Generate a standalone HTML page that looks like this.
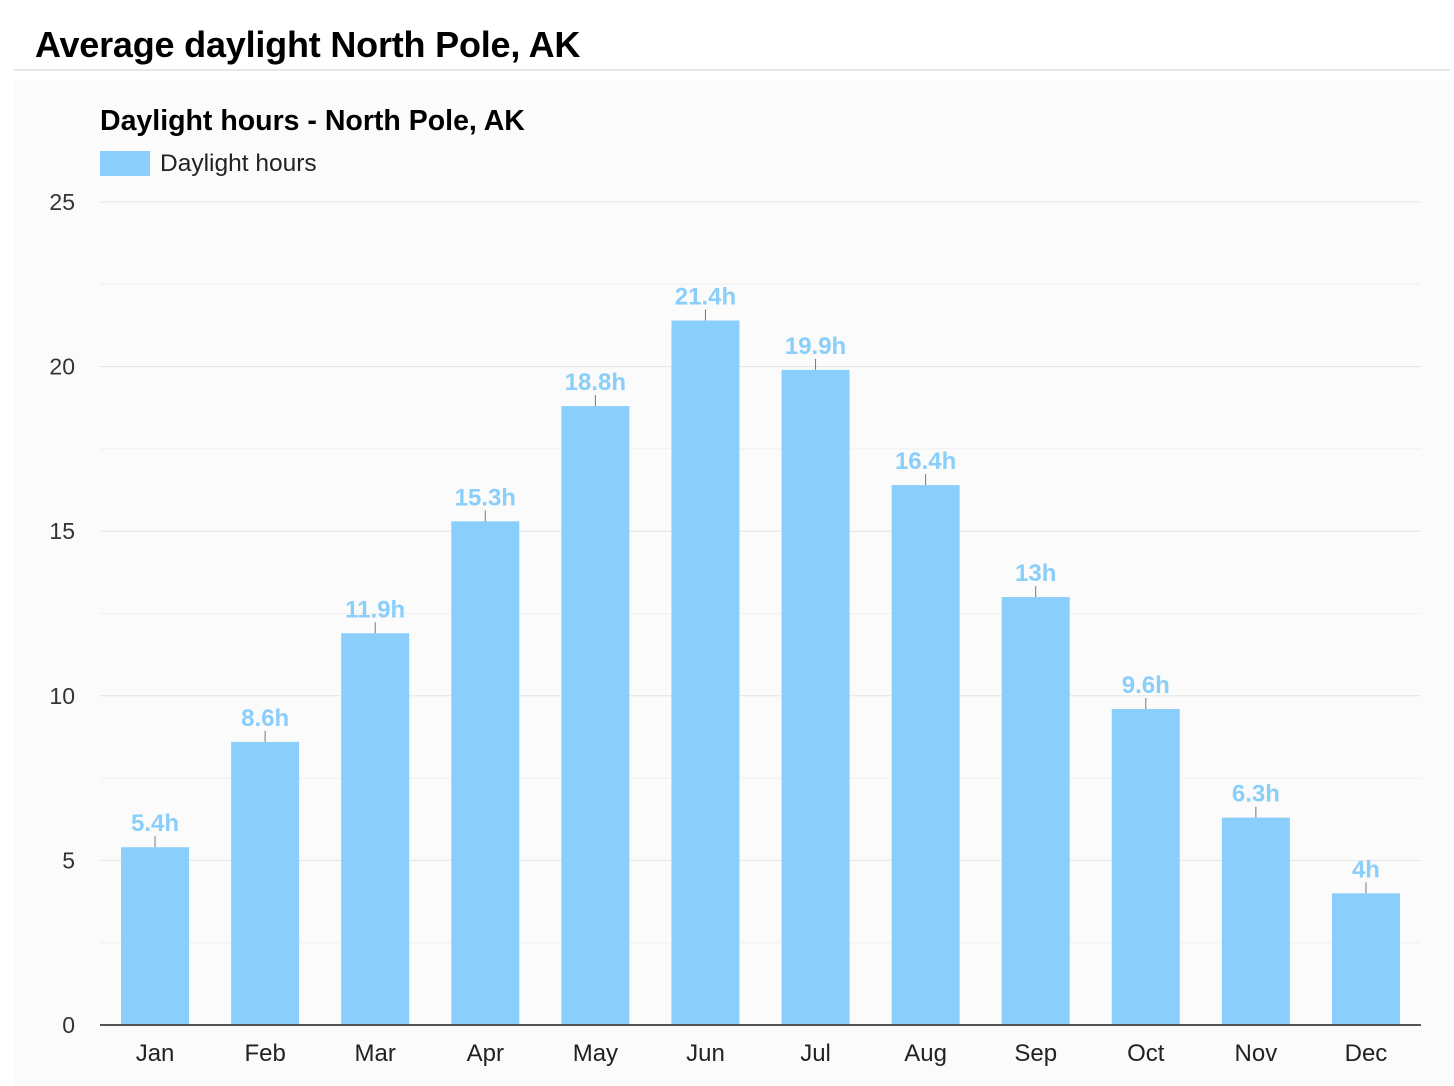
<!DOCTYPE html>
<html><head><meta charset="utf-8"><style>
body{margin:0;width:1454px;height:1086px;background:#fff;font-family:"Liberation Sans",Arial,sans-serif;overflow:hidden;position:relative}
#title{position:absolute;left:35px;top:24px;font-size:36px;font-weight:bold;color:#000;margin:0;letter-spacing:-0.2px}
#rule{position:absolute;left:14px;top:69px;width:1436px;height:2px;background:#e6e6e6}
#panel{position:absolute;left:14px;top:80px;width:1436px;height:1006px;background:#fafbfa}
svg{position:absolute;left:0;top:0}
</style></head><body>
<h1 id="title">Average daylight North Pole, AK</h1>
<div id="rule"></div>
<div id="panel"></div>
<svg id="chart" width="1454" height="1086">
<text x="100" y="130" font-size="28.5" font-weight="bold" fill="#000">Daylight hours - North Pole, AK</text>
<g>
<rect x="100" y="151" width="50" height="25" fill="#8acefb"></rect>
<text x="160" y="171" font-size="24.5" fill="#222">Daylight hours</text>
</g>
</svg>
<script>
const categories=["Jan","Feb","Mar","Apr","May","Jun","Jul","Aug","Sep","Oct","Nov","Dec"];
const values=[5.4,8.6,11.9,15.3,18.8,21.4,19.9,16.4,13,9.6,6.3,4];
const valueLabels=["5.4h","8.6h","11.9h","15.3h","18.8h","21.4h","19.9h","16.4h","13h","9.6h","6.3h","4h"];
const yTicks=[0,5,10,15,20,25];
const yMinor=[2.5,7.5,12.5,17.5,22.5];
const NS="http://www.w3.org/2000/svg";
const svg=document.getElementById('chart');
const x0=100,x1=1421,y0=1025,yTop=202,ymax=25;
const y=v=>y0-(v/ymax)*(y0-yTop);
const step=(x1-x0)/categories.length;
const xc=i=>x0+step*(i+0.5);
function mk(t,a){const e=document.createElementNS(NS,t);for(const k in a)e.setAttribute(k,a[k]);svg.appendChild(e);return e;}
yMinor.forEach(v=>{const l=mk('line',{x1:x0,x2:x1,y1:y(v),y2:y(v),stroke:'#f0f0f0','stroke-width':1});

});
yTicks.forEach(v=>{if(v>0){const l=mk('line',{x1:x0,x2:x1,y1:y(v),y2:y(v),stroke:'#e4e4e4','stroke-width':1});

}
const t=mk('text',{x:75,y:y(v)+8,'text-anchor':'end','font-size':23,fill:'#333'});t.textContent=v;

});
values.forEach((v,i)=>{const bw=68;
const r=mk('rect',{x:xc(i)-bw/2,y:y(v),width:bw,height:y0-y(v),fill:'#8acefb'});


const tk=mk('line',{x1:xc(i),x2:xc(i),y1:y(v)-11,y2:y(v),stroke:'#777','stroke-width':1});


const t=mk('text',{x:xc(i),y:y(v)-16,'text-anchor':'middle','font-size':24,'font-weight':'bold',fill:'#8acefb'});t.textContent=valueLabels[i];


const c=mk('text',{x:xc(i),y:1061,'text-anchor':'middle','font-size':24,fill:'#222'});c.textContent=categories[i];

});
const ax=mk('line',{x1:x0,x2:x1,y1:y0,y2:y0,stroke:'#555','stroke-width':2});


</script>
</body></html>
